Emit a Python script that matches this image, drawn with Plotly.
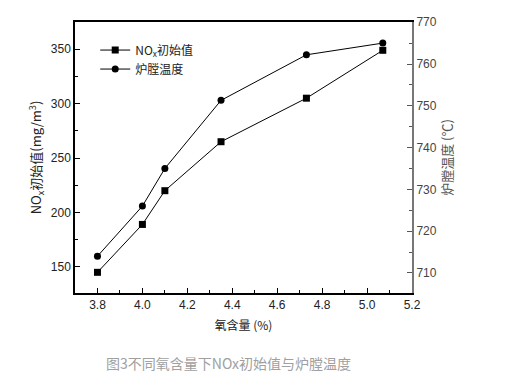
import plotly.graph_objects as go

oxygen = [3.8, 4.0, 4.1, 4.35, 4.73, 5.07]
nox_initial = [145, 189, 220, 265, 305, 349]
furnace_temp = [714, 726, 735, 751.3, 762.2, 765]

x_title = "氧含量 (%)"
y1_title = "NO<sub>x</sub>初始值(mg/m<sup>3</sup>)"
y2_title = "炉膛温度 (℃)"
caption = "图3不同氧含量下NOx初始值与炉膛温度"

fig = go.Figure()
fig.add_trace(go.Scatter(
    x=oxygen, y=nox_initial, name="NO<sub>x</sub>初始值", mode="lines+markers",
    line=dict(color="black", width=1), marker=dict(symbol="square", size=7, color="black"),
))
fig.add_trace(go.Scatter(
    x=oxygen, y=furnace_temp, name="炉膛温度", mode="lines+markers", yaxis="y2",
    line=dict(color="black", width=1), marker=dict(symbol="circle", size=7, color="black"),
))

font_tick = dict(family="Liberation Sans, Arial", size=12, color="#222")
fig.update_layout(
    width=516, height=377,
    margin=dict(l=67, r=112, t=14, b=92, autoexpand=False),
    paper_bgcolor="white", plot_bgcolor="white",
    showlegend=True,
    legend=dict(x=0.06, y=0.95, xanchor="left", yanchor="top", bgcolor="rgba(0,0,0,0)",
                font=dict(family="Noto Sans CJK SC", size=12, color="#222"), tracegroupgap=0,
                itemwidth=30),
    xaxis=dict(range=[3.7, 5.2], dtick=0.2, tick0=3.8, ticks="inside", ticklen=5, tickcolor="black",
               showline=True, linecolor="black", linewidth=2, mirror=True, showgrid=False, zeroline=False,
               tickfont=font_tick, tickformat=".1f", automargin=False,
               minor=dict(ticks="inside", ticklen=3, dtick=0.1, tickcolor="black"),
               title=dict(text=x_title, font=dict(family="Noto Sans CJK SC", size=12, color="#222"), standoff=10)),
    yaxis=dict(range=[126, 375], dtick=50, ticks="inside", ticklen=5, tickcolor="black",
               showline=True, linecolor="black", linewidth=1.5, showgrid=False, zeroline=False,
               tickfont=font_tick, automargin=False,
               minor=dict(ticks="inside", ticklen=3, dtick=25, tickcolor="black"),
               title=dict(text=y1_title, font=dict(family="Noto Sans CJK SC", size=13, color="#222"), standoff=6)),
    yaxis2=dict(range=[705.2, 770.05], dtick=10, overlaying="y", side="right", ticks="inside", ticklen=5,
                tickcolor="#555", showline=True, linecolor="#777", linewidth=2, showgrid=False, zeroline=False,
                tickfont=dict(family="Liberation Sans, Arial", size=12, color="#444"), automargin=False,
                minor=dict(ticks="inside", ticklen=3, dtick=5, tickcolor="#555"),
                title=dict(text=y2_title, font=dict(family="Noto Sans CJK SC", size=13, color="#555"), standoff=6)),
    annotations=[dict(text=caption, xref="paper", yref="paper", x=0.455, y=-0.213, xanchor="center",
                      yanchor="top", showarrow=False,
                      font=dict(family="Noto Sans CJK SC", size=14, color="#a0a0a0"))],
)

fig.write_html("out.html")
